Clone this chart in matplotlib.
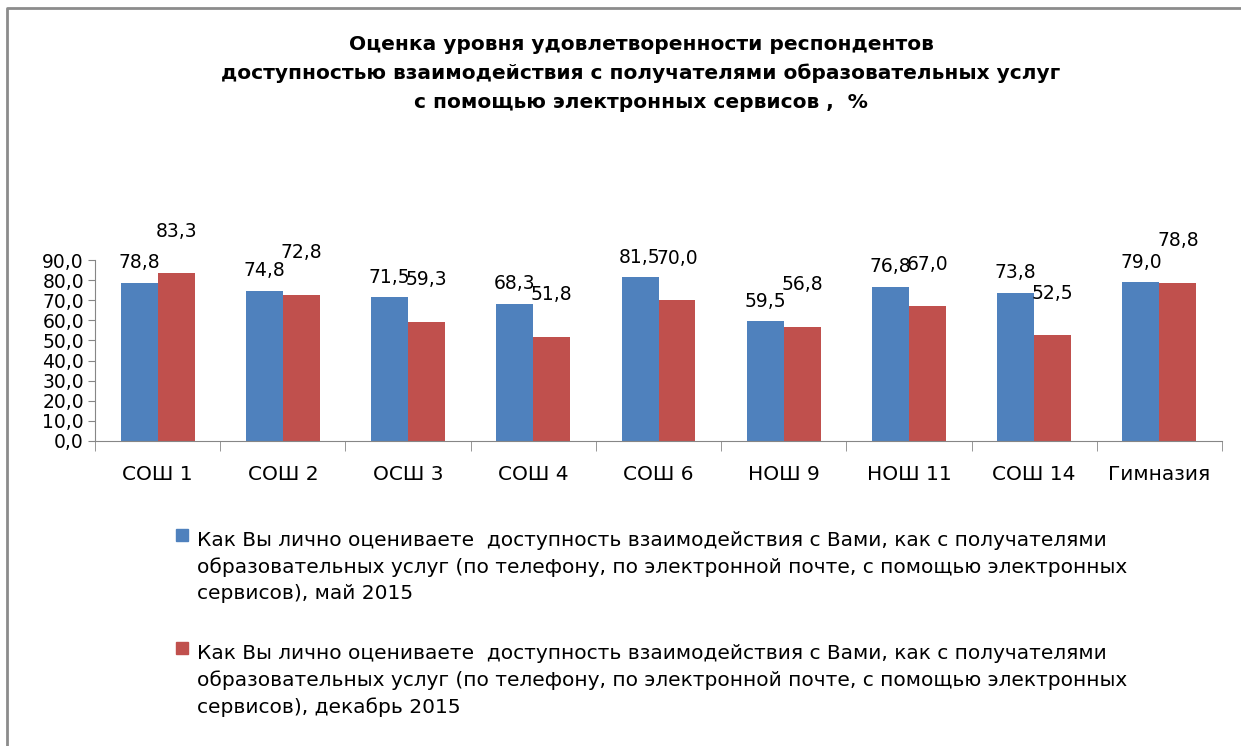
import matplotlib
matplotlib.use("Agg")
import matplotlib.pyplot as plt
from matplotlib.lines import Line2D
from matplotlib.patches import Rectangle
from matplotlib.ticker import FuncFormatter, FixedLocator
import numpy as np

# data
schools = ["СОШ 1", "СОШ 2", "ОСШ 3", "СОШ 4", "СОШ 6", "НОШ 9", "НОШ 11", "СОШ 14", "Гимназия"]
may_2015 = [78.8, 74.8, 71.5, 68.3, 81.5, 59.5, 76.8, 73.8, 79.0]
dec_2015 = [83.3, 72.8, 59.3, 51.8, 70.0, 56.8, 67.0, 52.5, 78.8]

question = ("Как Вы лично оцениваете  доступность взаимодействия с Вами, как с получателями\n"
            "образовательных услуг (по телефону, по электронной почте, с помощью электронных\n")
series_labels = [question + "сервисов), май 2015", question + "сервисов), декабрь 2015"]
title = ("Оценка уровня удовлетворенности респондентов\n"
         "доступностью взаимодействия с получателями образовательных услуг\n"
         "с помощью электронных сервисов ,  %")

blue = "#4F81BD"
red = "#C0504D"
axis_gray = "#868686"

plt.rcParams["font.family"] = ["DejaVu Sans"]

fig = plt.figure(figsize=(12.41, 7.46), dpi=100)
W, H = 1241, 746
ax = fig.add_axes([95 / W, 1 - 441 / H, (1222 - 95) / W, (441 - 260) / H])

x = np.arange(len(schools))
width = 0.295
b1 = ax.bar(x - width / 2, may_2015, width, color=blue)
b2 = ax.bar(x + width / 2, dec_2015, width, color=red)

fmt = lambda v: f"{v:.1f}".replace(".", ",")
for rect, v in zip(b1, may_2015):
    ax.annotate(fmt(v), (rect.get_x() + rect.get_width() / 2, v), xytext=(0, 20),
                textcoords="offset pixels", ha="center", va="center", fontsize=13.5)
for rect, v in zip(b2, dec_2015):
    ax.annotate(fmt(v), (rect.get_x() + rect.get_width() / 2, v), xytext=(0, 42),
                textcoords="offset pixels", ha="center", va="center", fontsize=13.5)

ax.set_xlim(-0.5, len(schools) - 0.5)
ax.set_ylim(0, 90)
ax.set_yticks(np.arange(0, 91, 10))
ax.yaxis.set_major_formatter(FuncFormatter(lambda v, p: fmt(v)))
ax.set_xticks(x)
ax.set_xticklabels(schools, fontsize=14.5)
ax.xaxis.set_minor_locator(FixedLocator(np.arange(-0.5, len(schools), 1.0)))
ax.tick_params(axis="x", which="major", length=0, pad=17)
ax.tick_params(axis="x", which="minor", length=7, color=axis_gray, direction="out")
ax.tick_params(axis="y", length=5, color=axis_gray, labelsize=13.5, pad=3)
for s in ["top", "right"]:
    ax.spines[s].set_visible(False)
for s in ["left", "bottom"]:
    ax.spines[s].set_color(axis_gray)

fig.text(641 / W, 1 - 35 / H, title, ha="center", va="top", fontsize=14.5,
         fontweight="bold", linespacing=1.62)

# legend drawn by hand so the square sits on the first line of each entry
for i, (lab, col) in enumerate(zip(series_labels, [blue, red])):
    top = 529 + i * 113
    fig.patches.append(Rectangle((176 / W, 1 - (top + 12) / H), 12 / W, 12 / H,
                                 transform=fig.transFigure, color=col))
    fig.text(197 / W, 1 - (top + 2) / H, lab, ha="left", va="top", fontsize=14.5,
             linespacing=1.48)

# chart frame (top and left edges are visible in the reference)
fig.add_artist(Line2D([7 / W, 7 / W, 1.0], [0.0, 1 - 8 / H, 1 - 8 / H],
                      transform=fig.transFigure, color="#8c8c8c", lw=2))

fig.savefig("out.png", dpi=100)
